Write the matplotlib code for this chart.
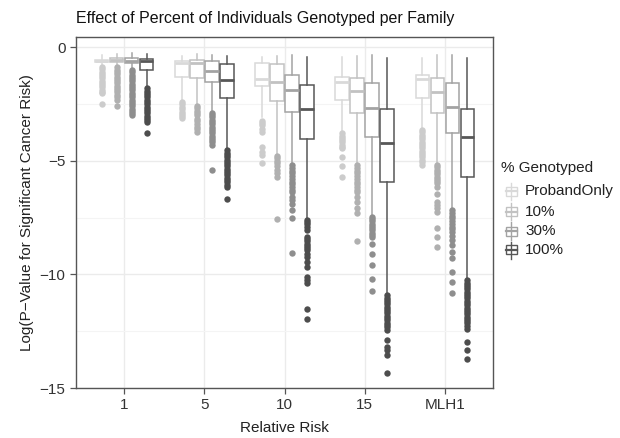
import matplotlib
matplotlib.use("Agg")
import matplotlib.pyplot as plt
from matplotlib.patches import Rectangle
from matplotlib.lines import Line2D

plt.rcParams['font.family'] = ['Liberation Sans', 'DejaVu Sans']

categories = ["1", "5", "10", "15", "MLH1"]
series = ["ProbandOnly", "10%", "30%", "100%"]

# box statistics per series, one value per category
q1 = {
    "ProbandOnly": [-0.66, -1.31, -1.70, -2.33, -2.23],
    "10%":         [-0.67, -1.38, -2.37, -2.92, -2.92],
    "30%":         [-0.72, -1.53, -2.85, -3.95, -3.80],
    "100%":        [-1.03, -2.26, -4.05, -5.96, -5.71],
}
med = {
    "ProbandOnly": [-0.60, -0.72, -1.41, -1.56, -1.41],
    "10%":         [-0.57, -0.72, -1.53, -1.92, -1.97],
    "30%":         [-0.60, -1.04, -1.89, -2.70, -2.63],
    "100%":        [-0.62, -1.45, -2.72, -4.21, -3.95],
}
q3 = {
    "ProbandOnly": [-0.55, -0.60, -0.69, -1.31, -1.23],
    "10%":         [-0.48, -0.57, -0.76, -1.38, -1.38],
    "30%":         [-0.47, -0.60, -1.23, -1.60, -1.57],
    "100%":        [-0.52, -0.75, -1.67, -2.74, -2.73],
}
whislo = {
    "ProbandOnly": [-0.80, -2.33, -3.10, -3.70, -3.60],
    "10%":         [-0.85, -2.50, -4.70, -5.10, -5.10],
    "30%":         [-0.95, -2.85, -5.10, -7.40, -7.10],
    "100%":        [-1.78, -4.46, -7.55, -10.85, -10.26],
}
whishi = {
    "ProbandOnly": [-0.35, -0.40, -0.45, -0.45, -0.50],
    "10%":         [-0.31, -0.31, -0.40, -0.40, -0.35],
    "30%":         [-0.28, -0.35, -0.35, -0.35, -0.35],
    "100%":        [-0.31, -0.40, -0.43, -0.50, -0.50],
}
fliers = {
    "ProbandOnly": [
        [-0.88, -0.98, -1.08, -1.18, -1.28, -1.38, -1.48, -1.58, -1.68, -1.78, -1.88, -1.96, -2.03, -2.51],
        [-2.42, -2.52, -2.62, -2.72, -2.84, -2.95, -3.05, -3.13],
        [-3.25, -3.35, -3.45, -3.60, -3.75, -4.38, -4.60, -4.75, -5.10],
        [-3.80, -3.90, -4.00, -4.10, -4.20, -4.30, -4.40, -4.46, -4.83, -5.24, -5.71],
        [-3.66, -3.76, -3.86, -3.96, -4.06, -4.16, -4.26, -4.36, -4.46, -4.56, -4.66, -4.76, -4.86, -4.96, -5.06, -5.20],
    ],
    "10%": [
        [-0.90, -1.00, -1.10, -1.20, -1.30, -1.40, -1.50, -1.60, -1.70, -1.80, -1.90, -2.00, -2.10, -2.20, -2.33, -2.60],
        [-2.60, -2.70, -2.80, -2.90, -3.00, -3.15, -3.25, -3.40, -3.50, -3.60, -3.75],
        [-4.80, -4.90, -5.00, -5.10, -5.25, -5.40, -5.55, -5.70, -7.55],
        [-5.20, -5.32, -5.44, -5.56, -5.68, -5.80, -5.92, -6.04, -6.16, -6.28, -6.40, -6.60, -6.80, -7.10, -7.30, -8.53],
        [-5.20, -5.30, -5.40, -5.50, -5.60, -5.70, -5.80, -5.90, -6.00, -6.15, -6.45, -6.80, -6.95, -7.10, -7.25, -7.97, -8.35, -8.80],
    ],
    "30%": [
        [-1.01, -1.11, -1.21, -1.31, -1.41, -1.51, -1.61, -1.71, -1.81, -1.91, -2.01, -2.11, -2.21, -2.31, -2.41, -2.51, -2.61, -2.71, -2.81, -2.91, -3.00],
        [-2.90, -3.00, -3.10, -3.20, -3.30, -3.40, -3.50, -3.60, -3.70, -3.80, -3.90, -4.00, -4.10, -4.20, -4.32, -5.42],
        [-5.20, -5.32, -5.44, -5.56, -5.68, -5.80, -5.92, -6.04, -6.16, -6.28, -6.40, -6.60, -6.75, -6.90, -7.18, -7.50, -9.08],
        [-7.47, -7.57, -7.67, -7.77, -7.87, -7.97, -8.07, -8.17, -8.27, -8.35, -8.65, -9.09, -9.60, -10.22, -10.75],
        [-7.18, -7.30, -7.42, -7.54, -7.66, -7.78, -7.90, -8.02, -8.14, -8.30, -8.50, -8.70, -9.00, -9.30, -9.90, -10.34, -10.80],
    ],
    "100%": [
        [-1.82, -1.92, -2.02, -2.12, -2.22, -2.32, -2.42, -2.52, -2.62, -2.72, -2.82, -2.92, -3.02, -3.12, -3.20, -3.29, -3.79],
        [-4.55, -4.65, -4.75, -4.85, -4.95, -5.05, -5.15, -5.25, -5.35, -5.45, -5.55, -5.65, -5.75, -5.85, -5.95, -6.05, -6.15, -6.67],
        [-7.60, -7.70, -7.80, -7.90, -8.05, -8.35, -8.45, -8.55, -8.65, -8.75, -8.85, -8.95, -9.10, -9.25, -9.46, -9.68, -10.10, -10.25, -10.40, -11.54, -11.98],
        [-10.92, -11.02, -11.12, -11.22, -11.32, -11.42, -11.52, -11.62, -11.72, -11.82, -11.92, -12.02, -12.12, -12.22, -12.32, -12.47, -12.90, -13.20, -13.35, -13.57, -14.33],
        [-10.26, -10.36, -10.46, -10.56, -10.66, -10.76, -10.86, -10.96, -11.06, -11.16, -11.26, -11.36, -11.46, -11.56, -11.66, -11.76, -11.86, -11.96, -12.06, -12.16, -12.26, -12.39, -12.98, -13.35, -13.74],
    ],
}

yticks = [0, -5, -10, -15]
title = "Effect of Percent of Individuals Genotyped per Family"
xlabel = "Relative Risk"
ylabel = "Log(P\u2212Value for Significant Cancer Risk)"
legend_title = "% Genotyped"

line_colors = {"ProbandOnly": "#d9d9d9", "10%": "#c2c2c2", "30%": "#a3a3a3", "100%": "#575757"}
flier_colors = {"ProbandOnly": "#cccccc", "10%": "#b0b0b0", "30%": "#8e8e8e", "100%": "#4d4d4d"}

W, H = 620, 438
fig = plt.figure(figsize=(W / 100, H / 100), dpi=100)
ax = fig.add_axes([76 / W, 1 - 388 / H, (493 - 76) / W, (388 - 37) / H])

dodge = 0.1875
offsets = [-1.5, -0.5, 0.5, 1.5]
for si, s in enumerate(series):
    stats = []
    for ci, c in enumerate(categories):
        stats.append(dict(med=med[s][ci], q1=q1[s][ci], q3=q3[s][ci],
                          whislo=whislo[s][ci], whishi=whishi[s][ci],
                          fliers=fliers[s][ci]))
    pos = [ci + offsets[si] * dodge for ci in range(len(categories))]
    lc = line_colors[s]
    ax.bxp(stats, positions=pos, widths=0.17, showcaps=False, patch_artist=True,
           manage_ticks=False,
           boxprops=dict(facecolor="white", edgecolor=lc, linewidth=1.1),
           whiskerprops=dict(color=lc, linewidth=1.1),
           medianprops=dict(color=lc, linewidth=2.0, solid_capstyle="butt"),
           flierprops=dict(marker="o", markerfacecolor=flier_colors[s],
                           markeredgecolor="none", markersize=4.6, linestyle="none"),
           zorder=3)

ax.set_xlim(-0.6, len(categories) - 0.4)
ax.set_ylim(-15, 0.44)
ax.set_xticks(range(len(categories)))
ax.set_xticklabels(categories)
ax.set_yticks(yticks)
ax.set_yticklabels(["0" if t == 0 else "\u2212%d" % abs(t) for t in yticks])
ax.set_yticks([-2.5, -7.5, -12.5], minor=True)
ax.set_xticks([], minor=True)
ax.grid(True, which="major", color="#ebebeb", linewidth=1.0, zorder=0)
ax.grid(True, which="minor", axis="y", color="#f4f4f4", linewidth=0.8, zorder=0)
ax.set_axisbelow(True)
for sp in ax.spines.values():
    sp.set_color("#555555")
    sp.set_linewidth(1.0)
ax.tick_params(axis="both", which="major", colors="#555555", length=4, width=0.9,
               labelsize=11, labelcolor="#333333")
ax.tick_params(axis="y", which="minor", length=0)
ax.set_xlabel(xlabel, fontsize=11, color="#222222", labelpad=6)
ax.set_ylabel(ylabel, fontsize=11, color="#222222", labelpad=4)
fig.text(76 / W, 1 - 18 / H, title, fontsize=11.5, color="#111111", ha="left", va="center")

# legend
fig.text(501 / W, 1 - 168 / H, legend_title, fontsize=11, color="#222222", ha="left", va="center")
row_y = [191.5, 211.5, 231, 250]
for s, yy in zip(series, row_y):
    lc = line_colors[s]
    x0, x1 = 505.5, 517
    xc = (x0 + x1) / 2
    fig.add_artist(Line2D([xc / W, xc / W], [1 - (yy - 8.5) / H, 1 - (yy + 8.5) / H],
                          transform=fig.transFigure, color=lc, linewidth=1.0))
    fig.add_artist(Rectangle((x0 / W, 1 - (yy + 4.5) / H), (x1 - x0) / W, 9 / H,
                             transform=fig.transFigure, facecolor="white", edgecolor=lc, linewidth=1.0))
    fig.add_artist(Line2D([x0 / W, x1 / W], [1 - yy / H, 1 - yy / H],
                          transform=fig.transFigure, color=lc, linewidth=1.6))
    fig.text(525 / W, 1 - yy / H, s, fontsize=11, color="#222222", ha="left", va="center")

fig.savefig("out.png", dpi=100, facecolor="white")
